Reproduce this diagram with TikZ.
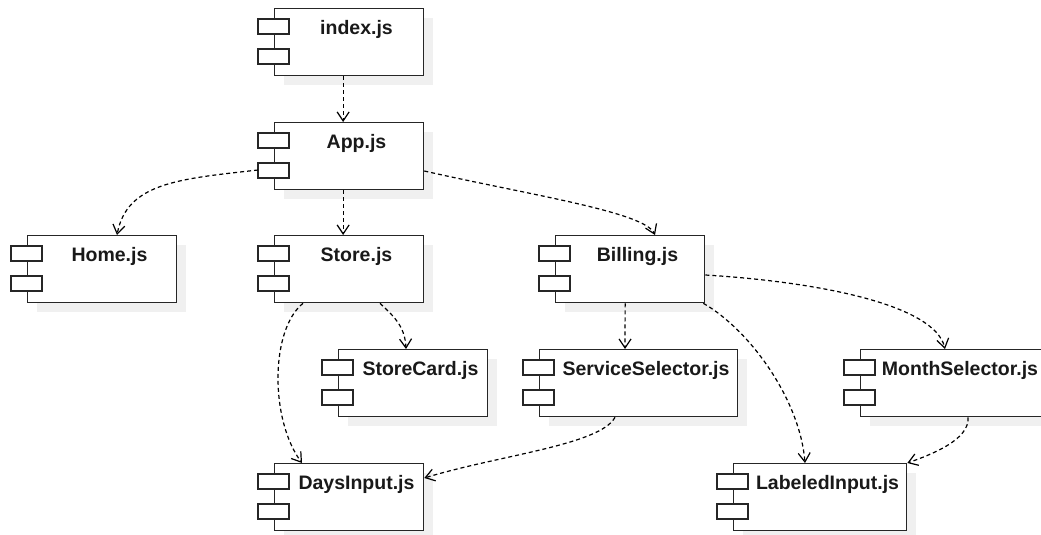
\documentclass[tikz,border=0pt]{standalone}
\usepackage{fontspec}
\setmainfont{Liberation Sans}
\usetikzlibrary{arrows.meta,calc}

\definecolor{shadowgray}{HTML}{F0F0F0}
\definecolor{edgegray}{HTML}{262626}

\tikzset{
  compbox/.style={draw=edgegray, fill=white, line width=1.3pt, rectangle,
    inner sep=0pt, minimum height=67pt, anchor=north west},
  comptab/.style={draw=edgegray, fill=white, line width=1.3pt},
  complabel/.style={font=\fontsize{19.5}{22}\selectfont\bfseries, text=black!90,
    inner sep=0pt, anchor=center},
  dep/.style={draw=black, line width=1.2pt, dash pattern=on 4pt off 3pt,
    -{Straight Barb[length=9pt,width=12pt,line width=1.2pt]}},
}

% component symbol: name, left x, top y, width, label
\newcommand\component[5]{%
  \fill[shadowgray] (#2+10,#3+10) rectangle ++(#4,67);
  \node[compbox, minimum width=#4pt] (#1) at (#2,#3) {};
  \draw[comptab] ($(#1.north west)+(-16,11)$) rectangle ++(31,15);
  \draw[comptab] ($(#1.north west)+(-16,41)$) rectangle ++(31,15);
  \node[complabel] (#1-label) at ($(#1.north west)+({(#4+16)/2},21)$) {#5};
}

\begin{document}
\begin{tikzpicture}[x=1pt, y=-1pt]
  \useasboundingbox (0,0) rectangle (1041,535);

  \component{index}{274}{8}{149}{index.js}
  \component{app}{274}{122}{149}{App.js}
  \component{home}{27}{235}{149}{Home.js}
  \component{store}{274}{235}{149}{Store.js}
  \component{billing}{555}{235}{149}{Billing.js}
  \component{storecard}{338}{349}{149}{StoreCard.js}
  \component{service}{539}{349}{198}{ServiceSelector.js}
  \component{month}{860}{349}{184}{MonthSelector.js}
  \component{days}{274}{463}{149}{DaysInput.js}
  \component{labeled}{733}{463}{173}{LabeledInput.js}

  % dependencies
  \draw[dep] ($(index.south)+(-6,0)$) -- ($(app.north)+(-6,0)$);
  \draw[dep] ($(app.south)+(-6,0)$) -- ($(store.north)+(-6,0)$);
  \draw[dep] ($(billing.south)+(-5,0)$) -- ($(service.north west)+(86,0)$);

  \draw[dep] ($(app.north west)+(-16,48)$)
    .. controls (178,179) and (127,183) .. ($(home.north west)+(90,0)$);
  \draw[dep] ($(app.north east)+(0,49)$)
    .. controls (530,195) and (645,212) .. ($(billing.north west)+(100,0)$);
  \draw[dep] ($(store.south west)+(106,0)$)
    .. controls (392,315) and (405,325) .. ($(storecard.north west)+(68,0)$);
  \draw[dep] ($(store.south west)+(29,0)$)
    .. controls (270,330) and (270,420) .. ($(days.north west)+(28,0)$);
  \draw[dep] ($(billing.north east)+(0,40)$)
    .. controls (820,282) and (935,305) .. ($(month.north west)+(85,0)$);
  \draw[dep] ($(billing.south east)+(-2,0)$)
    .. controls (750,330) and (800,400) .. ($(labeled.north west)+(72,0)$);
  \draw[dep] ($(service.south west)+(76,0)$)
    .. controls (600,445) and (500,455) .. ($(days.north east)+(0,15)$);
  \draw[dep] ($(month.south west)+(108,0)$)
    .. controls (970,440) and (930,455) .. (labeled.north east);
\end{tikzpicture}
\end{document}
